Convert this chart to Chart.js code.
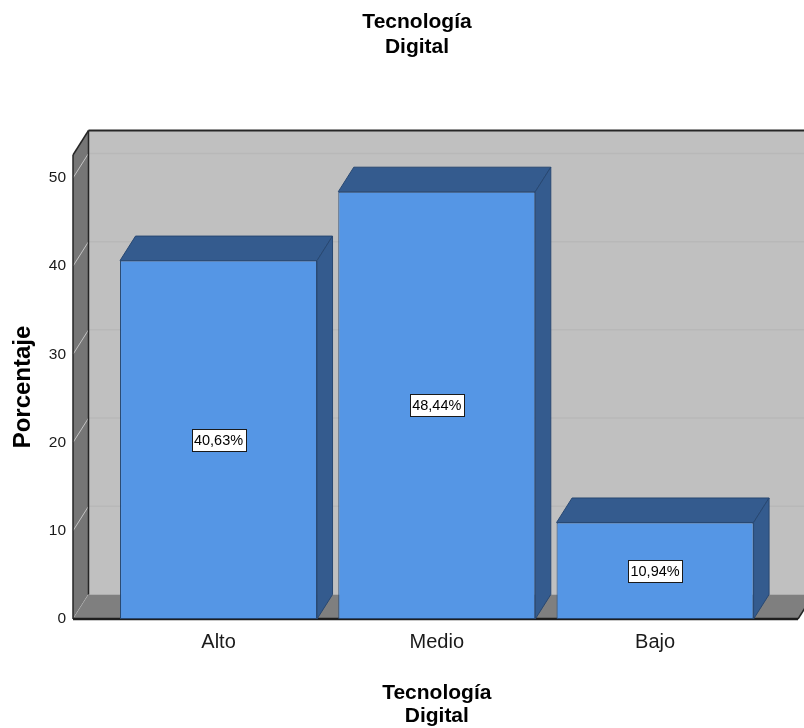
<!DOCTYPE html>
<html>
<head>
<meta charset="utf-8">
<script src="https://cdn.jsdelivr.net/npm/chart.js@4.4.1/dist/chart.umd.min.js"></script>
<style>
  html, body { margin: 0; padding: 0; background: #ffffff; }
  #wrap { width: 804px; height: 728px; position: relative; }
</style>
</head>
<body>
<div id="wrap"><canvas id="c" width="804" height="728"></canvas></div>
<script>
// Data
const categories = ['Alto', 'Medio', 'Bajo'];
const percentages = [40.63, 48.44, 10.94];
const yTicks = [0, 10, 20, 30, 40, 50];
const chartTitle = ['Tecnología', 'Digital'];
const xTitle = ['Tecnología', 'Digital'];
const yTitle = 'Porcentaje';

// Styling
const SANS = "'Liberation Sans', Arial, sans-serif";
const DX = 15.5, DY = -24.5;          // depth offset of the 3D box
const FRONT = '#5596e5', SHADE = '#345b8e', EDGE = '#284872';

function poly(ctx, pts, fill, stroke, lw) {
  ctx.beginPath();
  ctx.moveTo(pts[0][0], pts[0][1]);
  for (let i = 1; i < pts.length; i++) ctx.lineTo(pts[i][0], pts[i][1]);
  ctx.closePath();
  if (fill) { ctx.fillStyle = fill; ctx.fill(); }
  if (stroke) { ctx.strokeStyle = stroke; ctx.lineWidth = lw || 1; ctx.stroke(); }
}
function line(ctx, x1, y1, x2, y2, color, lw) {
  ctx.beginPath();
  ctx.moveTo(x1, y1); ctx.lineTo(x2, y2);
  ctx.strokeStyle = color; ctx.lineWidth = lw; ctx.stroke();
}

// Walls, floor and grid of the 3D frame
const frame3d = {
  id: 'frame3d',
  beforeDatasetsDraw(chart) {
    const { ctx, chartArea: a, scales: { y } } = chart;
    const W = chart.width;
    const fl = a.left - 36.4, fr = a.right + 33.8, top = a.top, bot = a.bottom;
    ctx.save();
    // back wall
    ctx.fillStyle = '#c0c0c0';
    ctx.fillRect(fl + DX, top + DY, W - (fl + DX), bot - top);
    // grid lines on the back wall
    y.ticks.forEach(t => {
      if (t.value === 0) return;
      const py = y.getPixelForValue(t.value) + DY;
      line(ctx, fl + DX, py, W, py, '#b8b8b8', 1.5);
    });
    // left wall
    poly(ctx, [[fl, top], [fl + DX, top + DY], [fl + DX, bot + DY], [fl, bot]], '#767676');
    y.ticks.forEach(t => {
      const py = y.getPixelForValue(t.value);
      line(ctx, fl, py, fl + DX, py + DY, '#c4c4c4', 1);
    });
    // floor
    poly(ctx, [[fl, bot], [fl + DX, bot + DY], [fr + DX, bot + DY], [fr, bot]], '#7f7f7f');
    // frame edges
    line(ctx, fl + DX, top + DY, W, top + DY, '#262626', 2);
    line(ctx, fl + DX, top + DY, fl + DX, bot + DY, '#262626', 1.5);
    line(ctx, fl, top, fl + DX, top + DY, '#262626', 1.5);
    line(ctx, fl, top, fl, bot, '#262626', 1.5);
    line(ctx, fr, bot, fr + DX, bot + DY, '#262626', 1.5);
    line(ctx, fl, bot, fr, bot, '#1e1e1e', 2.5);
    ctx.restore();
  },
  afterDatasetsDraw(chart) {
    const { ctx } = chart;
    const meta = chart.getDatasetMeta(0);
    const values = chart.data.datasets[0].data;
    ctx.save();
    meta.data.forEach((bar, i) => {
      const L = bar.x - bar.width / 2, R = bar.x + bar.width / 2;
      const T = bar.y, B = bar.base;
      // top face
      poly(ctx, [[L, T], [L + DX, T + DY], [R + DX, T + DY], [R, T]], SHADE, EDGE, 1);
      // side face
      poly(ctx, [[R, T], [R + DX, T + DY], [R + DX, B + DY], [R, B]], SHADE, EDGE, 1);
      // value label
      const text = values[i].toFixed(2).replace('.', ',') + '%';
      ctx.font = '14.5px ' + SANS;
      const tw = ctx.measureText(text).width;
      const bw = Math.round(tw + 5), bh = 22;
      const cx = bar.x, cy = (T + B) / 2;
      const bx = Math.round(cx - bw / 2) + 0.5, by = Math.round(cy - bh / 2) + 0.5;
      ctx.fillStyle = '#ffffff';
      ctx.fillRect(bx, by, bw, bh);
      ctx.strokeStyle = '#1a1a1a';
      ctx.lineWidth = 1;
      ctx.strokeRect(bx, by, bw, bh);
      ctx.fillStyle = '#000000';
      ctx.textAlign = 'center';
      ctx.textBaseline = 'middle';
      ctx.fillText(text, cx, cy + 1);
    });
    ctx.restore();
  },
  afterDraw(chart) {
    const { ctx } = chart;
    ctx.save();
    ctx.font = 'bold 21px ' + SANS;
    ctx.fillStyle = '#000000';
    ctx.textAlign = 'center';
    ctx.textBaseline = 'middle';
    chartTitle.forEach((t, i) => ctx.fillText(t, 417, 22 + i * 25.5));
    ctx.restore();
  }
};

new Chart(document.getElementById('c'), {
  type: 'bar',
  data: {
    labels: categories,
    datasets: [{
      data: percentages,
      backgroundColor: FRONT,
      borderColor: EDGE,
      borderWidth: 1,
      borderSkipped: false,
      categoryPercentage: 1.0,
      barPercentage: 0.9026
    }]
  },
  options: {
    responsive: false,
    devicePixelRatio: 1,
    animation: false,
    layout: { padding: { top: 155, left: 0, right: 39.8, bottom: 0 } },
    plugins: { legend: { display: false }, tooltip: { enabled: false } },
    scales: {
      x: {
        grid: { display: false, drawTicks: false },
        border: { display: false },
        ticks: { color: '#1a1a1a', font: { family: SANS, size: 20 }, padding: 11 },
        title: {
          display: true, text: xTitle, color: '#000000',
          font: { family: SANS, size: 21, weight: 'bold', lineHeight: 1.1 },
          padding: { top: 0, bottom: 0 }
        },
        afterFit(s) { s.height = 109; }
      },
      y: {
        min: 0, max: 52.6,
        grid: { display: false, drawTicks: false },
        border: { display: false },
        afterBuildTicks(s) { s.ticks = yTicks.map(v => ({ value: v })); },
        ticks: { color: '#1a1a1a', font: { family: SANS, size: 15.5 }, padding: 43.4 },
        title: {
          display: true, text: yTitle, color: '#000000',
          font: { family: SANS, size: 24, weight: 'bold' },
          padding: { top: 9, bottom: 0 }
        },
        afterFit(s) { s.width = 109.4; }
      }
    }
  },
  plugins: [frame3d]
});
</script>
</body>
</html>
